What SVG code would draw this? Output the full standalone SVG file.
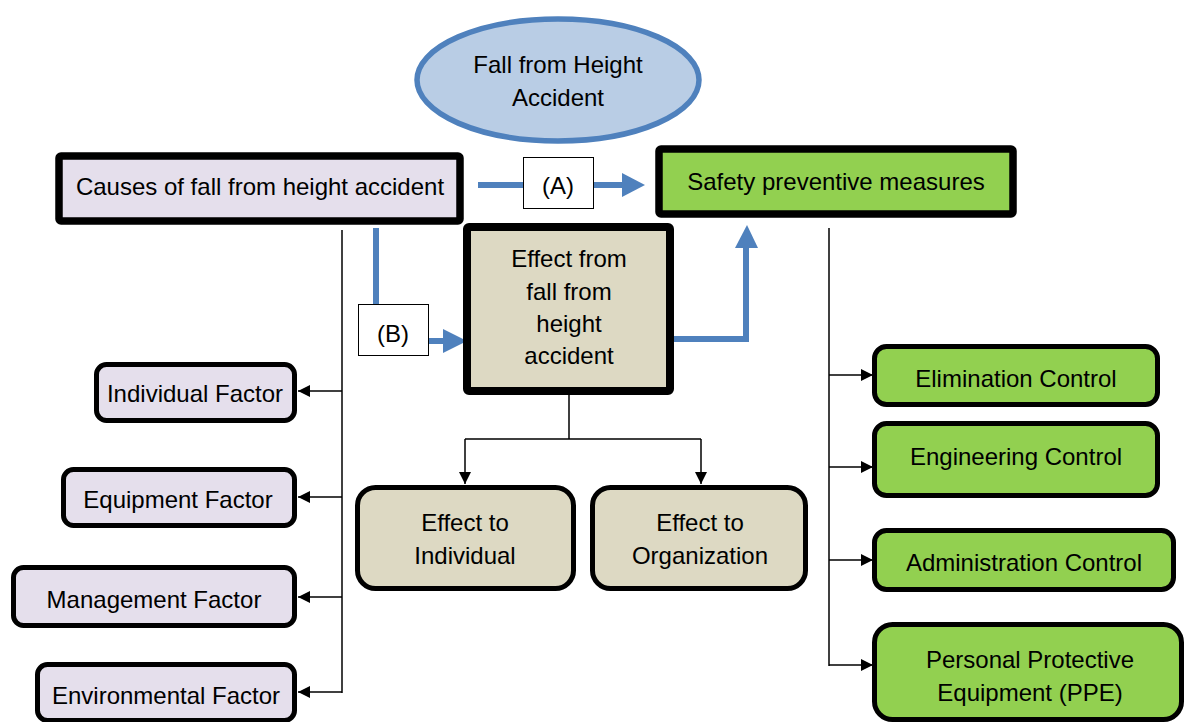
<svg xmlns="http://www.w3.org/2000/svg" width="1185" height="722" viewBox="0 0 1185 722">
<defs>
<style>
text{font-family:"Liberation Sans",Arial,sans-serif;font-size:24px;fill:#000;text-anchor:middle;dominant-baseline:central}
.thin{fill:none;stroke:#000;stroke-width:1.5}
.blue{fill:none;stroke:#4f81bd;stroke-width:6}
.bhead{fill:#4f81bd}
.purple{fill:#e5dfec;stroke:#000;stroke-width:5}
.tan{fill:#ddd9c3;stroke:#000;stroke-width:5}
.green{fill:#92d050;stroke:#000;stroke-width:5}
.lbl{fill:#fff;stroke:#000;stroke-width:1}
</style>
<marker id="ahb" viewBox="0 0 10 10" refX="10" refY="5" markerWidth="15" markerHeight="12" markerUnits="userSpaceOnUse" orient="auto">
<path d="M0,0 L10,5 L0,10 Z" fill="#000"/>
</marker>
</defs>

<g id="connectors">
<line class="thin" x1="342" y1="230" x2="342" y2="693"/>
<line class="thin" x1="342" y1="391" x2="298" y2="391" marker-end="url(#ahb)"/>
<line class="thin" x1="342" y1="497" x2="298" y2="497" marker-end="url(#ahb)"/>
<line class="thin" x1="342" y1="597" x2="298" y2="597" marker-end="url(#ahb)"/>
<line class="thin" x1="342" y1="692" x2="298" y2="692" marker-end="url(#ahb)"/>
<path class="thin" d="M569,395 V439 M465,439 H701"/>
<line class="thin" x1="465" y1="439" x2="465" y2="484" marker-end="url(#ahb)"/>
<line class="thin" x1="701" y1="439" x2="701" y2="484" marker-end="url(#ahb)"/>
<line class="thin" x1="829" y1="228" x2="829" y2="666"/>
<line class="thin" x1="829" y1="375" x2="873" y2="375" marker-end="url(#ahb)"/>
<line class="thin" x1="829" y1="467" x2="873" y2="467" marker-end="url(#ahb)"/>
<line class="thin" x1="829" y1="560" x2="873" y2="560" marker-end="url(#ahb)"/>
<line class="thin" x1="829" y1="665" x2="873" y2="665" marker-end="url(#ahb)"/>
<path class="blue" d="M478,185 H624"/>
<polygon class="bhead" points="622,173 645,185 622,197"/>
<path class="blue" d="M376,228 V304"/>
<path class="blue" d="M429,341 H445"/>
<polygon class="bhead" points="443,329 467,341 443,353"/>
<path class="blue" d="M671,339 H746 V246"/>
<polygon class="bhead" points="735,248 747,225 758,248"/>
</g>

<g id="ellipse-main">
<ellipse cx="558" cy="80" rx="141" ry="61" fill="#b9cde5" stroke="#4f81bd" stroke-width="5.5"/>
<text x="558" y="64">Fall from Height</text>
<text x="558" y="97">Accident</text>
</g>

<g id="causes">
<rect x="59" y="156" width="401" height="65" rx="2" fill="#e5dfec" stroke="#000" stroke-width="7.5"/>
<text x="260" y="186">Causes of fall from height accident</text>
</g>

<g id="safety">
<rect x="659" y="149" width="354" height="65" rx="2" fill="#92d050" stroke="#000" stroke-width="7.5"/>
<text x="836" y="181">Safety preventive measures</text>
</g>

<g id="label-a">
<rect class="lbl" x="523.5" y="157.5" width="70" height="51"/>
<text x="558" y="185">(A)</text>
</g>

<g id="label-b">
<rect class="lbl" x="358.5" y="304.5" width="70" height="51"/>
<text x="393" y="333">(B)</text>
</g>

<g id="effect">
<rect x="467" y="227" width="203" height="164" rx="2" fill="#ddd9c3" stroke="#000" stroke-width="8"/>
<text x="569" y="258">Effect from</text>
<text x="569" y="291">fall from</text>
<text x="569" y="323">height</text>
<text x="569" y="355">accident</text>
</g>

<g id="individual-factor">
<rect class="purple" x="96.5" y="364.5" width="198" height="56" rx="10"/>
<text x="195" y="393">Individual Factor</text>
</g>
<g id="equipment-factor">
<rect class="purple" x="63.5" y="469.5" width="231" height="56" rx="10"/>
<text x="178" y="499">Equipment Factor</text>
</g>
<g id="management-factor">
<rect class="purple" x="13.5" y="567.5" width="281" height="58" rx="10"/>
<text x="154" y="599">Management Factor</text>
</g>
<g id="environmental-factor">
<rect class="purple" x="37.5" y="664.5" width="257" height="56" rx="10"/>
<text x="166" y="695">Environmental Factor</text>
</g>

<g id="effect-individual">
<rect class="tan" x="357.5" y="487.5" width="216" height="101" rx="18"/>
<text x="465" y="522">Effect to</text>
<text x="465" y="555">Individual</text>
</g>
<g id="effect-organization">
<rect class="tan" x="592.5" y="487.5" width="213" height="101" rx="18"/>
<text x="700" y="522">Effect to</text>
<text x="700" y="555">Organization</text>
</g>

<g id="elimination">
<rect class="green" x="874.5" y="346.5" width="283" height="58" rx="12"/>
<text x="1016" y="378">Elimination Control</text>
</g>
<g id="engineering">
<rect class="green" x="874.5" y="423.5" width="283" height="72" rx="12"/>
<text x="1016" y="456">Engineering Control</text>
</g>
<g id="administration">
<rect class="green" x="874.5" y="530.5" width="299" height="59" rx="12"/>
<text x="1024" y="562">Administration Control</text>
</g>
<g id="ppe">
<rect class="green" x="874.5" y="624.5" width="307" height="95" rx="18"/>
<text x="1030" y="659">Personal Protective</text>
<text x="1030" y="692">Equipment (PPE)</text>
</g>
</svg>
